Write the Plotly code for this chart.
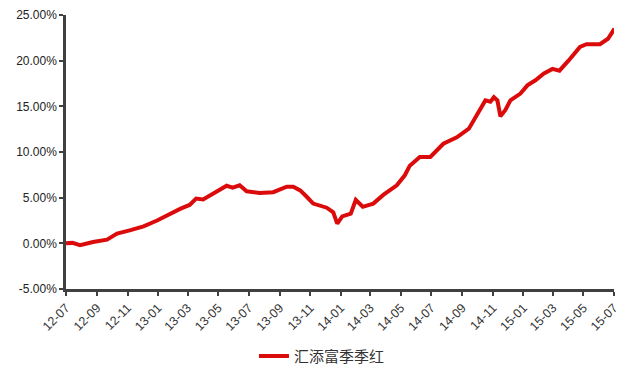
import plotly.graph_objects as go

dates = ["2012-07-01", "2012-07-14", "2012-07-29", "2012-08-24", "2012-09-21", "2012-10-11",
         "2012-11-07", "2012-12-03", "2012-12-30", "2013-01-26", "2013-02-15", "2013-03-05",
         "2013-03-18", "2013-04-01", "2013-04-21", "2013-05-18", "2013-05-30", "2013-06-13",
         "2013-06-27", "2013-07-23", "2013-08-19", "2013-09-15", "2013-09-28", "2013-10-12",
         "2013-10-25", "2013-11-07", "2013-12-04", "2013-12-17", "2013-12-25", "2014-01-04",
         "2014-01-21", "2014-01-31", "2014-02-14", "2014-03-07", "2014-03-27", "2014-04-23",
         "2014-05-09", "2014-05-19", "2014-06-08", "2014-06-29", "2014-07-25", "2014-08-21",
         "2014-09-14", "2014-09-30", "2014-10-17", "2014-10-27", "2014-11-03", "2014-11-10",
         "2014-11-16", "2014-11-26", "2014-12-06", "2014-12-26", "2015-01-09", "2015-01-25",
         "2015-02-11", "2015-02-28", "2015-03-14", "2015-04-01", "2015-04-24", "2015-05-07",
         "2015-06-03", "2015-06-19", "2015-07-02"]
values = [0.00, 0.05, -0.20, 0.15, 0.40, 1.06,
          1.45, 1.86, 2.50, 3.30, 3.80, 4.20,
          4.90, 4.80, 5.46, 6.30, 6.10, 6.35,
          5.70, 5.50, 5.60, 6.20, 6.20, 5.80,
          5.10, 4.35, 3.90, 3.40, 2.15, 2.95,
          3.25, 4.75, 4.00, 4.35, 5.30, 6.35,
          7.45, 8.50, 9.45, 9.45, 10.90, 11.60,
          12.55, 14.00, 15.65, 15.50, 16.00, 15.65,
          13.90, 14.60, 15.65, 16.40, 17.30, 17.85,
          18.60, 19.10, 18.90, 20.00, 21.50, 21.80,
          21.80, 22.40, 23.50]

tick_dates = ["2012-07-01", "2012-09-01", "2012-11-01", "2013-01-01", "2013-03-01", "2013-05-01",
              "2013-07-01", "2013-09-01", "2013-11-01", "2014-01-01", "2014-03-01", "2014-05-01",
              "2014-07-01", "2014-09-01", "2014-11-01", "2015-01-01", "2015-03-01", "2015-05-01",
              "2015-07-01"]
tick_labels = ["12-07", "12-09", "12-11", "13-01", "13-03", "13-05", "13-07", "13-09", "13-11",
               "14-01", "14-03", "14-05", "14-07", "14-09", "14-11", "15-01", "15-03", "15-05",
               "15-07"]
y_ticks = [-5, 0, 5, 10, 15, 20, 25]
series_name = "汇添富季季红"

fig = go.Figure()
fig.add_trace(go.Scatter(
    x=dates, y=values, mode="lines", name=series_name,
    line=dict(color="#dc0b0b", width=4), cliponaxis=False,
))

axis_color = "#404040"
fig.update_layout(
    width=640, height=377,
    margin=dict(l=66, r=26, t=15, b=88, autoexpand=False),
    paper_bgcolor="white", plot_bgcolor="white",
    font=dict(family="Liberation Sans, Arial, sans-serif", color="#222222", size=13),
    showlegend=True,
    legend=dict(orientation="h", x=0.343, xanchor="left",
                yref="container", y=0.055, yanchor="middle",
                font=dict(family="Noto Sans CJK SC, sans-serif", size=15, color="#333333"),
                bgcolor="rgba(0,0,0,0)"),
    xaxis=dict(
        type="date", range=["2012-07-01", "2015-07-01"], automargin=False,
        tickmode="array", tickvals=tick_dates, ticktext=tick_labels,
        tickangle=-45, ticks="outside", ticklen=4, tickwidth=2, tickcolor=axis_color,
        showline=True, linecolor=axis_color, linewidth=2.5, showgrid=False, zeroline=False,
        tickfont=dict(size=12.5, color="#333333"),
    ),
    yaxis=dict(
        range=[-5, 25], tickmode="array", tickvals=y_ticks, automargin=False,
        ticktext=[f"{v:.2f}%" for v in y_ticks],
        ticks="outside", ticklen=4, tickwidth=2, tickcolor=axis_color,
        showline=True, linecolor=axis_color, linewidth=2.5, showgrid=False, zeroline=False,
        tickfont=dict(size=12, color="#222222"),
    ),
)

fig.write_html("out.html")
